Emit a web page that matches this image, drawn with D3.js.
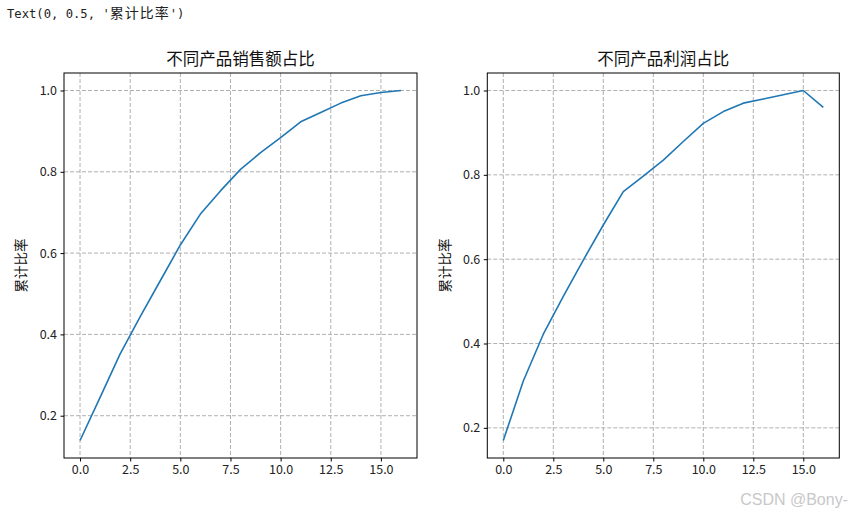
<!DOCTYPE html>
<html><head><meta charset="utf-8">
<script src="https://cdn.jsdelivr.net/npm/d3@7"></script>
<style>body{margin:0;background:#fff;} text{font-family:"Noto Sans CJK SC","Noto Sans",sans-serif;}</style>
</head><body>
<svg id="c" width="853" height="514"></svg>
<script>
const xIdx = d3.range(17);
const salesCum = [0.139,0.245,0.352,0.444,0.532,0.62,0.696,0.753,0.806,0.847,0.884,0.923,0.946,0.969,0.987,0.995,1.0];
const profitCum = [0.17,0.311,0.422,0.512,0.598,0.681,0.76,0.797,0.835,0.879,0.922,0.95,0.97,0.98,0.99,1.0,0.96];
const titles = ["不同产品销售额占比","不同产品利润占比"];
const yLabel = "累计比率";
const xTicks = [0,2.5,5,7.5,10,12.5,15];
const yTicks = [0.2,0.4,0.6,0.8,1.0];

const svg = d3.select("#c");
const hdr = svg.append("text").attr("x",7).attr("y",18).style("font-family","'DejaVu Sans Mono',monospace").style("font-size","12.2px").attr("fill","#222");
hdr.append("tspan").text("Text(0, 0.5, '");
hdr.append("tspan").style("font-family","'Noto Sans CJK SC',sans-serif").style("font-size","14px").style("letter-spacing","1px").text(yLabel);
hdr.append("tspan").text("')");

const panels = [{left:64,right:417,data:salesCum,title:titles[0],labX:21},{left:487.3,right:839.3,data:profitCum,title:titles[1],labX:445}];
const pTop=73,pBottom=458;
panels.forEach(p=>{
  const g=svg.append("g");
  const x=d3.scaleLinear().domain([-0.8,16.8]).range([p.left,p.right]);
  const mn=d3.min(p.data),mx=d3.max(p.data),pad=(mx-mn)*0.05;
  const y=d3.scaleLinear().domain([mn-pad,mx+pad]).range([pBottom,pTop]);
  g.selectAll(".gx").data(xTicks).join("line").attr("x1",d=>x(d)).attr("x2",d=>x(d)).attr("y1",pTop).attr("y2",pBottom).attr("stroke","#b0b0b0").attr("stroke-dasharray","4,2").attr("stroke-width",1);
  g.selectAll(".gy").data(yTicks).join("line").attr("y1",d=>y(d)).attr("y2",d=>y(d)).attr("x1",p.left).attr("x2",p.right).attr("stroke","#b0b0b0").attr("stroke-dasharray","4,2").attr("stroke-width",1);
  g.append("path").datum(p.data).attr("fill","none").attr("stroke","#1f77b4").attr("stroke-width",1.6).attr("stroke-linejoin","round")
   .attr("d",d3.line().x((d,i)=>x(xIdx[i])).y(d=>y(d)));
  const ax=g.append("g").attr("transform",`translate(0,${pBottom})`).call(d3.axisBottom(x).tickValues(xTicks).tickFormat(d3.format(".1f")).tickSize(3.5).tickPadding(3.5));
  const ay=g.append("g").attr("transform",`translate(${p.left},0)`).call(d3.axisLeft(y).tickValues(yTicks).tickFormat(d3.format(".1f")).tickSize(3.5).tickPadding(3.5));
  [ax,ay].forEach(a=>{a.select(".domain").remove();a.selectAll("text").style("font-size","12.5px").attr("fill","#222");a.selectAll("line").attr("stroke","#000");});
  g.append("rect").attr("x",p.left).attr("y",pTop).attr("width",p.right-p.left).attr("height",pBottom-pTop).attr("fill","none").attr("stroke","#000").attr("stroke-width",1);
  g.append("text").attr("x",(p.left+p.right)/2).attr("y",65).attr("text-anchor","middle").style("font-size","16.5px").attr("fill","#111").text(p.title);
  g.append("text").attr("transform",`translate(${p.labX},${(pTop+pBottom)/2}) rotate(-90)`).attr("text-anchor","middle").attr("dy","0.35em").style("font-size","13.5px").attr("fill","#111").text(yLabel);
});
svg.append("text").attr("x",848).attr("y",505).attr("text-anchor","end").style("font-size","16px").style("font-family","'Liberation Sans',Arial,sans-serif").attr("fill","#c8c8c8").text("CSDN @Bony-");
</script>
</body></html>
